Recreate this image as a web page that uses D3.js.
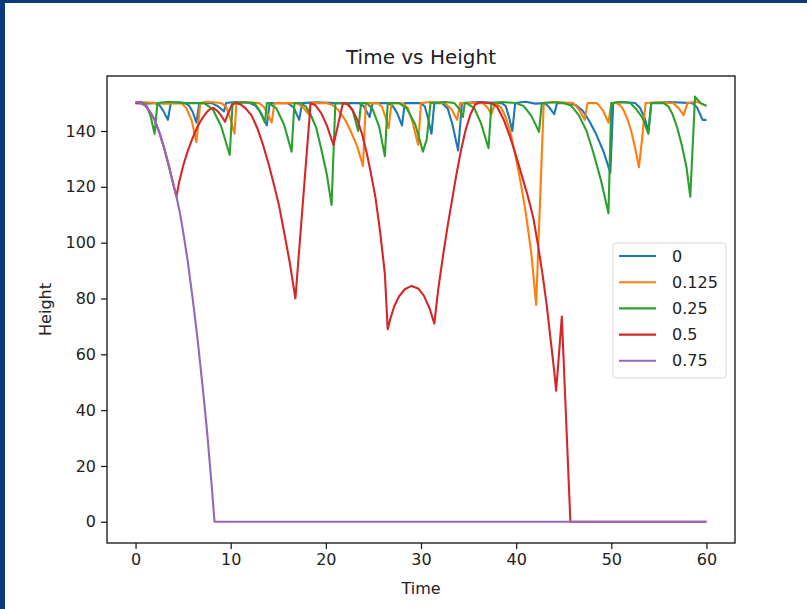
<!DOCTYPE html>
<html>
<head>
<meta charset="utf-8">
<script src="https://cdn.jsdelivr.net/npm/d3@7"></script>
<style>
  body { margin: 0; background: #fff; }
  svg text { font-family: "DejaVu Sans", sans-serif; fill: #222; }
  .axis path, .axis line { stroke: #111; }
</style>
</head>
<body>
<svg id="chart"></svg>
<script>
// readings: [time, height]
var series0 = [[0,150],[0.5,150.5],[1,149.8],[2.0,150],[2.5,149.3],[2.9,147.3],[3.4,144],[3.7,150],[4.5,150.3],[5.2,150],[5.6,149.2],[6.0,146.9],[6.4,143],[6.7,150],[8.0,150],[8.6,149],[9.3,147],[9.5,150],[10.5,150.4],[12.0,150],[12.6,149.1],[13.2,146.4],[13.8,142],[14.1,150],[16.0,150],[16.6,148.5],[17.2,144],[17.5,150],[19,150.3],[21,150],[23.5,150],[24.0,148.8],[24.6,145],[24.9,150],[26.5,150],[27.0,149.1],[27.5,146.4],[28.0,142],[28.3,150],[30.0,150],[30.4,148.8],[30.7,145.1],[31.1,139],[31.4,150],[32.2,150],[32.8,148.1],[33.3,142.4],[33.9,133],[34.3,150],[36,150.4],[38.5,150],[38.9,148.9],[39.2,145.6],[39.6,140],[39.9,150],[41,150.5],[42,149.8],[43.0,150],[43.5,148.4],[44.0,146],[44.3,150],[45.5,150],[46.3,149.2],[47.0,147.2],[47.7,143.5],[48.4,138.9],[49.2,132.5],[49.9,125],[50.2,150],[51.5,150.3],[52.5,150],[53.0,148.4],[53.5,144.7],[53.9,140],[54.2,150],[56,150.4],[58.5,150],[59.0,148.5],[59.6,144],[60,144]];

var series1 = [[0,150],[1,150.3],[2,150],[3,149.8],[4.8,150],[5.3,148.4],[5.9,143.8],[6.4,136],[6.8,150],[7.5,150.5],[9.0,150],[9.5,148.8],[9.9,145.1],[10.4,139],[10.6,150],[11.5,150.3],[13.0,150],[13.5,148.6],[13.9,146],[14.3,143],[14.6,150],[17.0,150],[17.6,148.5],[18.2,146],[18.4,150],[20.0,150],[20.7,149.3],[21.3,147.5],[22.0,144.2],[22.6,140],[23.3,134.5],[23.9,127.5],[24.2,150],[25.5,150],[25.9,148.6],[26.3,144.7],[26.6,141],[26.9,150],[28.0,150],[28.6,148.3],[29.1,143.3],[29.7,135],[30.0,150],[31,150.4],[32.5,150],[33.2,147.8],[33.8,144],[34.1,150],[36.5,150],[37.0,148.3],[37.4,146],[37.8,150],[38.4,148.5],[38.9,145],[39.4,139.5],[40.0,130],[40.5,121],[41.0,111],[41.6,96],[42.1,77.7],[42.9,150],[44,150.4],[46.0,150],[46.6,147.7],[47.2,144],[47.5,150],[48.5,150],[49.1,147.5],[49.7,143],[50.0,150],[50.5,150],[50.9,149.4],[51.3,147.4],[51.7,144.2],[52.1,139.8],[52.5,134],[52.9,127],[53.2,136],[53.6,150],[55,150.3],[56.5,150],[57.1,148.1],[57.6,145.7],[58.0,150],[59,150.5],[60,149]];

var series2 = [[0,150],[0.8,150],[1.2,148.8],[1.6,145.1],[2.0,139],[2.3,150],[3.5,150.5],[5,150],[7.2,150],[8.1,147.9],[9.0,141.7],[9.9,131.4],[10.2,150],[11.3,150.4],[12.5,150],[13.0,147.5],[13.6,143],[13.8,150],[14.0,150],[14.8,148.1],[15.6,142.3],[16.4,132.6],[16.7,150],[17.3,150],[17.9,148.8],[18.4,145.9],[19.0,141],[19.5,133.8],[20.1,124.5],[20.6,113.5],[21.0,150],[22.3,150],[22.8,147.5],[23.4,140],[23.7,150],[24.3,150],[24.9,147.9],[25.6,141.6],[26.2,131],[26.5,150],[27.7,150],[28.5,148.1],[29.4,142.3],[30.2,132.6],[30.6,137],[31.0,150],[32.5,150.4],[33.5,150],[34.0,148],[34.4,145],[34.6,150],[34.8,150],[35.6,148.2],[36.3,142.8],[37.1,133.8],[37.4,150],[38.5,150.4],[40.0,150],[40.8,148.9],[41.6,145.4],[42.4,139.7],[42.7,150],[44,150.3],[45.0,150],[45.8,149],[46.6,145.6],[47.4,140],[48.1,132.4],[48.9,122.5],[49.7,110.5],[50.0,150],[51,150.5],[52.0,150],[52.6,147.9],[53.3,144.6],[53.9,139],[54.2,150],[55.5,150],[56.0,148.8],[56.4,146.3],[56.9,141.5],[57.4,135.1],[57.9,127],[58.3,116.5],[58.8,152.3],[59.4,150],[60,149]];

var series3 = [[0,150],[0.5,150],[1,149.2],[1.5,147],[2,144],[2.5,139.5],[3,134],[3.5,127.5],[4,120.5],[4.3,116.5],[4.6,122],[5,127.5],[5.5,133],[6,137.5],[6.5,141.5],[7,144.5],[7.5,146.8],[7.8,147.8],[8.2,148.2],[8.6,147.2],[9.0,145.5],[9.4,143.3],[9.7,146],[10.1,149.3],[10.5,150],[11,149.6],[11.6,148],[12.2,145.5],[12.8,141],[13.4,135],[14,128],[14.6,120],[15.1,113],[15.6,104],[16.2,93],[16.8,80],[18.4,150],[18.9,149.2],[19.5,146.5],[20.1,142],[20.8,135],[21.8,150],[22.3,149.5],[22.8,147.5],[23.3,144],[23.8,139],[24.3,132],[24.7,125.5],[25.2,116.5],[25.7,104],[26.2,89],[26.5,69],[26.8,73],[27.2,77.3],[27.7,80.8],[28.3,83.3],[29,84.5],[29.7,83.6],[30.3,81],[30.9,76.5],[31.4,71],[31.8,83],[32.3,95],[32.8,106],[33.2,114],[33.7,124],[34.2,133],[34.7,140.5],[35.2,146],[35.7,149.5],[36.2,150.3],[37,150],[37.5,149.8],[38,148.7],[38.7,144],[39.4,137.5],[40,131],[40.6,124],[41.2,117],[41.8,109],[42.3,99],[42.8,88],[43.2,78],[43.6,66],[44,54],[44.2,47],[44.5,60],[44.8,73.5],[45.7,0],[60,0]];

var series4 = [[0,150.5],[0.6,150],[1,149.2],[1.5,147],[2,144],[2.5,139.5],[3,134],[3.5,127.5],[4,120.5],[4.3,116.5],[4.7,110],[5,104],[5.5,93],[6,80],[6.5,66],[7,50],[7.5,33],[8,13],[8.3,0],[60,0]];

var seriesLabels = ["0", "0.125", "0.25", "0.5", "0.75"];
var seriesColors = ["#1f77b4", "#ff7f0e", "#2ca02c", "#d62728", "#9467bd"];
var xTicks = [0, 10, 20, 30, 40, 50, 60];
var yTicks = [0, 20, 40, 60, 80, 100, 120, 140];

var allSeries = [series0, series1, series2, series3, series4];

var W = 807, H = 609;
var plotLeft = 107, plotRight = 735, plotTop = 76, plotBottom = 543;

var svg = d3.select("#chart").attr("width", W).attr("height", H);

svg.append("rect").attr("width", W).attr("height", H).attr("fill", "#fff");
// dark frame of the screenshot
svg.append("rect").attr("x", 0).attr("y", 0).attr("width", 5).attr("height", H).attr("fill", "#0d3a78");
svg.append("rect").attr("x", 0).attr("y", 0).attr("width", W).attr("height", 3).attr("fill", "#0d3a78");

var xScale = d3.scaleLinear().domain([-3, 63]).range([plotLeft, plotRight]);
var yScale = d3.scaleLinear().domain([-7.6, 159.7]).range([plotBottom, plotTop]);

var line = d3.line()
    .x(function (d) { return xScale(d[0]); })
    .y(function (d) { return yScale(d[1]); });

svg.selectAll(".series")
    .data(allSeries)
    .enter().append("path")
    .attr("class", "series")
    .attr("d", line)
    .attr("fill", "none")
    .attr("stroke", function (d, i) { return seriesColors[i]; })
    .attr("stroke-width", 2.1)
    .attr("stroke-linejoin", "round");

svg.append("g")
    .attr("class", "axis")
    .attr("transform", "translate(0," + plotBottom + ")")
    .call(d3.axisBottom(xScale).tickValues(xTicks).tickSize(6).tickPadding(5).tickSizeOuter(0));

svg.append("g")
    .attr("class", "axis")
    .attr("transform", "translate(" + plotLeft + ",0)")
    .call(d3.axisLeft(yScale).tickValues(yTicks).tickSize(6).tickPadding(5).tickSizeOuter(0));

svg.selectAll(".axis .domain").remove();
svg.selectAll(".axis line").attr("stroke-width", 1.2);
svg.selectAll(".axis text").style("font-size", "16px").attr("fill", "#222");

// frame
svg.append("rect")
    .attr("x", plotLeft).attr("y", plotTop)
    .attr("width", plotRight - plotLeft).attr("height", plotBottom - plotTop)
    .attr("fill", "none")
    .attr("stroke", "#111")
    .attr("stroke-width", 1.3);

svg.append("text")
    .attr("x", (plotLeft + plotRight) / 2)
    .attr("y", 57)
    .attr("text-anchor", "middle")
    .attr("dominant-baseline", "central")
    .style("font-size", "20px")
    .text("Time vs Height");

svg.append("text")
    .attr("x", (plotLeft + plotRight) / 2)
    .attr("y", 588)
    .attr("text-anchor", "middle")
    .attr("dominant-baseline", "central")
    .style("font-size", "16px")
    .text("Time");

svg.append("text")
    .attr("transform", "translate(45," + ((plotTop + plotBottom) / 2) + ") rotate(-90)")
    .attr("text-anchor", "middle")
    .attr("dominant-baseline", "central")
    .style("font-size", "16px")
    .text("Height");

var legend = svg.append("g").attr("class", "legend");

legend.append("rect")
    .attr("x", 613).attr("y", 243)
    .attr("width", 113).attr("height", 135)
    .attr("rx", 3)
    .attr("fill", "#fff")
    .attr("fill-opacity", 0.85)
    .attr("stroke", "#d8d8d8");

var rows = legend.selectAll(".row")
    .data(seriesLabels)
    .enter().append("g")
    .attr("class", "row")
    .attr("transform", function (d, i) { return "translate(0," + (256 + i * 26.2) + ")"; });

rows.append("line")
    .attr("x1", 619).attr("x2", 656)
    .attr("stroke", function (d, i) { return seriesColors[i]; })
    .attr("stroke-width", 2.1);

rows.append("text")
    .attr("x", 672)
    .attr("dominant-baseline", "central")
    .style("font-size", "16px")
    .text(function (d) { return d; });
</script>
</body>
</html>
